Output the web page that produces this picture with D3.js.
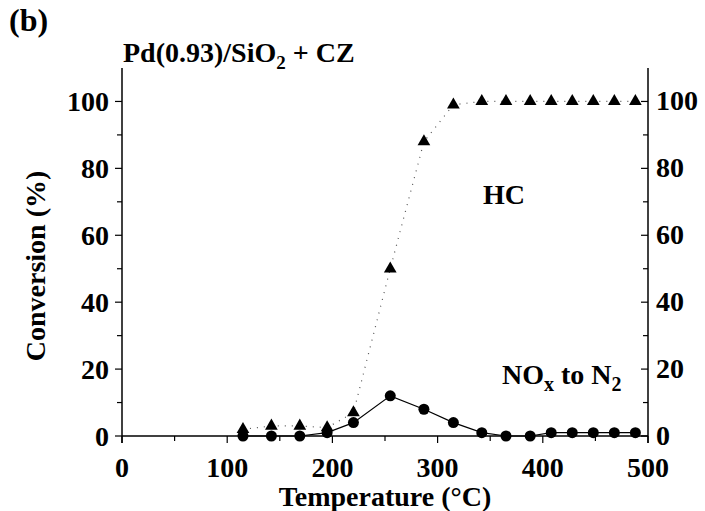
<!DOCTYPE html>
<html>
<head>
<meta charset="utf-8">
<script src="https://cdn.jsdelivr.net/npm/d3@7/dist/d3.min.js"></script>
<style>
  html, body { margin: 0; padding: 0; background: #fff; }
  svg text { font-family: "Liberation Serif", "Times New Roman", serif; font-weight: bold; fill: #000; }
</style>
</head>
<body>
<svg id="chart" width="705" height="511"></svg>
<script>
// Reaction temperatures (°C)
const temperatures = [115, 142, 169, 195, 220, 255, 287, 315, 342, 365, 388, 408, 428, 448, 468, 488];
// HC conversion (%)
const hcConversion = [2, 3, 3, 2.5, 7, 50, 88, 99, 100, 100, 100, 100, 100, 100, 100, 100];
// NOx to N2 conversion (%)
const noxConversion = [0, 0, 0, 1, 4, 12, 8, 4, 1, 0, 0, 1, 1, 1, 1, 1];
const xTicks = [0, 100, 200, 300, 400, 500];
const yTicks = [0, 20, 40, 60, 80, 100];

const svg = d3.select("#chart");
const plotLeft = 122, plotRight = 648, plotTop = 68, plotBottom = 436;

const x = d3.scaleLinear().domain([0, 500]).range([plotLeft, plotRight]);
const y = d3.scaleLinear().domain([0, 110]).range([plotBottom, plotTop]);

const ink = "#000";
const tickFont = "28px";

// Bottom axis: major and minor ticks pointing outward
const xAxis = svg.append("g").attr("transform", `translate(0,${plotBottom})`);
xAxis.append("line").attr("x1", plotLeft).attr("x2", plotRight).attr("stroke", ink).attr("stroke-width", 1.5);
xAxis.selectAll(".minor").data(d3.range(50, 500, 100)).join("line")
  .attr("x1", d => x(d)).attr("x2", d => x(d)).attr("y1", 0).attr("y2", 5)
  .attr("stroke", ink).attr("stroke-width", 1.2);
xAxis.selectAll(".major").data(xTicks).join("line")
  .attr("x1", d => x(d)).attr("x2", d => x(d)).attr("y1", 0).attr("y2", 7)
  .attr("stroke", ink).attr("stroke-width", 1.2);
xAxis.selectAll("text").data(xTicks).join("text")
  .attr("x", d => x(d)).attr("y", 41).attr("text-anchor", "middle")
  .style("font-size", tickFont).text(d => d);

// Left axis
const yAxisL = svg.append("g");
yAxisL.append("line").attr("x1", plotLeft).attr("x2", plotLeft).attr("y1", plotTop).attr("y2", plotBottom + 7)
  .attr("stroke", ink).attr("stroke-width", 1.5);
yAxisL.selectAll(".minor").data(d3.range(10, 110, 20)).join("line")
  .attr("x1", plotLeft - 5).attr("x2", plotLeft).attr("y1", d => y(d)).attr("y2", d => y(d))
  .attr("stroke", ink).attr("stroke-width", 1.2);
yAxisL.selectAll(".major").data(yTicks).join("line")
  .attr("x1", plotLeft - 7).attr("x2", plotLeft).attr("y1", d => y(d)).attr("y2", d => y(d))
  .attr("stroke", ink).attr("stroke-width", 1.2);
yAxisL.selectAll("text").data(yTicks).join("text")
  .attr("x", plotLeft - 13).attr("y", d => y(d)).attr("dy", "0.35em").attr("text-anchor", "end")
  .style("font-size", tickFont).text(d => d);

// Right axis, ticks mirrored inward
const yAxisR = svg.append("g");
yAxisR.append("line").attr("x1", plotRight).attr("x2", plotRight).attr("y1", plotTop).attr("y2", plotBottom + 7)
  .attr("stroke", ink).attr("stroke-width", 1.5);
yAxisR.selectAll(".minor").data(d3.range(10, 110, 20)).join("line")
  .attr("x1", plotRight - 5).attr("x2", plotRight).attr("y1", d => y(d)).attr("y2", d => y(d))
  .attr("stroke", ink).attr("stroke-width", 1.2);
yAxisR.selectAll(".major").data(yTicks).join("line")
  .attr("x1", plotRight - 7).attr("x2", plotRight).attr("y1", d => y(d)).attr("y2", d => y(d))
  .attr("stroke", ink).attr("stroke-width", 1.2);
yAxisR.selectAll("text").data(yTicks).join("text")
  .attr("x", plotRight + 8).attr("y", d => y(d)).attr("dy", "0.32em").attr("text-anchor", "start")
  .style("font-size", tickFont).text(d => d);

// HC: dotted line with filled triangles; NOx: solid line with filled circles
const hcPts = temperatures.map((t, i) => [t, hcConversion[i]]);
const noxPts = temperatures.map((t, i) => [t, noxConversion[i]]);
const line = d3.line().x(d => x(d[0])).y(d => y(d[1]));

svg.append("path").attr("d", line(hcPts)).attr("fill", "none")
  .attr("stroke", "#555").attr("stroke-width", 1.2).attr("stroke-dasharray", "1,6");

svg.append("path").attr("d", line(noxPts)).attr("fill", "none")
  .attr("stroke", ink).attr("stroke-width", 1.2);

const tri = d3.symbol().type(d3.symbolTriangle).size(70);
svg.selectAll(".hc").data(hcPts).join("path")
  .attr("transform", d => `translate(${x(d[0])},${y(d[1])})`)
  .attr("d", tri).attr("fill", ink);

svg.selectAll(".nox").data(noxPts).join("circle")
  .attr("cx", d => x(d[0])).attr("cy", d => y(d[1])).attr("r", 5.5).attr("fill", ink);

// Axis titles
svg.append("text").attr("x", (plotLeft + plotRight) / 2).attr("y", 506).attr("text-anchor", "middle")
  .style("font-size", "28px").text("Temperature (°C)");
svg.append("text").attr("transform", `translate(45,${(plotTop + plotBottom) / 2 + 14}) rotate(-90)`)
  .attr("text-anchor", "middle").style("font-size", "28px").text("Conversion (%)");

// Panel label and sample title
svg.append("text").attr("x", 9).attr("y", 31).style("font-size", "32px").text("(b)");
const title = svg.append("text").attr("x", 123).attr("y", 62).style("font-size", "28px");
title.append("tspan").text("Pd(0.93)/SiO");
title.append("tspan").attr("dy", 7).style("font-size", "19px").text("2");
title.append("tspan").attr("dy", -7).text(" + CZ");

// Series labels
svg.append("text").attr("x", 504).attr("y", 204).attr("text-anchor", "middle")
  .style("font-size", "28px").text("HC");
const nox = svg.append("text").attr("x", 502).attr("y", 384).style("font-size", "28px");
nox.append("tspan").text("NO");
nox.append("tspan").attr("dy", 7).style("font-size", "20px").text("x");
nox.append("tspan").attr("dy", -7).text(" to N");
nox.append("tspan").attr("dy", 7).style("font-size", "20px").text("2");
</script>
</body>
</html>
